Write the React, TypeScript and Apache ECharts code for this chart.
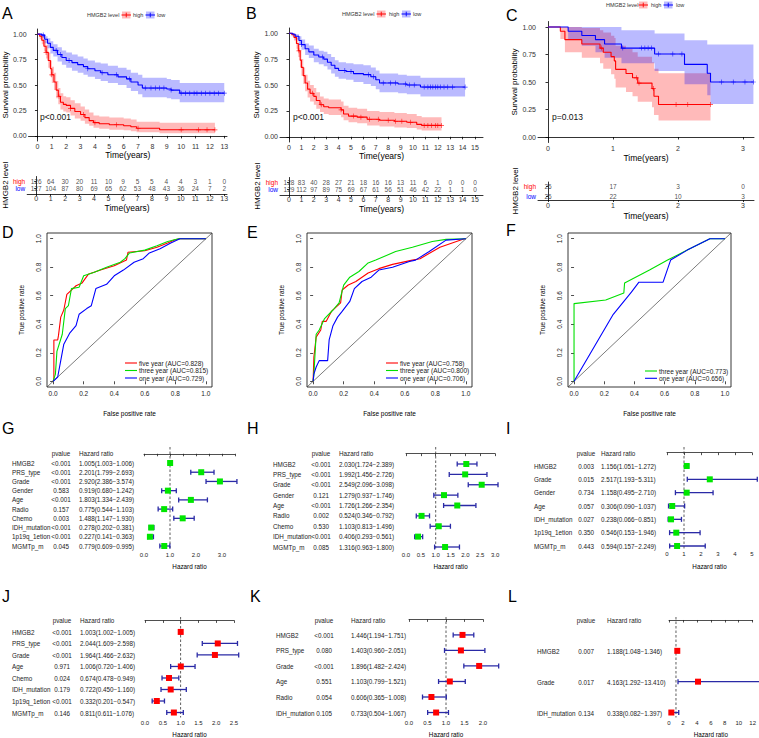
import { useEffect, useRef } from 'react';
import * as echarts from 'echarts';

const FONT = '"Liberation Sans", Arial, sans-serif';
const RED = '#ff0000';
const BLUE = '#0000ff';
const ROC_GREEN = '#00e000';
const PT_GREEN = '#00e600';
const RED_FILL = 'rgba(255,0,0,0.27)';
const BLUE_FILL = 'rgba(0,0,255,0.27)';
const BAR = '#2a2aa6';

// ---------- Kaplan-Meier data: [time, survival, lower, upper] ----------
const SURV_TICKS = [0, 0.25, 0.5, 0.75, 1];

const A_TICKS = [0, 1, 2, 3, 4, 5, 6, 7, 8, 9, 10, 11, 12, 13];
const A_HIGH = [
  [0, 1, 1, 1], [0.15, 0.98, 0.95, 1], [0.3, 0.94, 0.9, 0.98], [0.45, 0.88, 0.83, 0.94],
  [0.6, 0.82, 0.76, 0.89], [0.75, 0.74, 0.67, 0.82], [0.9, 0.66, 0.58, 0.74], [1.0, 0.6, 0.52, 0.68],
  [1.15, 0.53, 0.45, 0.62], [1.3, 0.45, 0.37, 0.54], [1.45, 0.39, 0.31, 0.47], [1.6, 0.33, 0.26, 0.42],
  [1.8, 0.31, 0.24, 0.39], [2.0, 0.3, 0.23, 0.38], [2.3, 0.27, 0.2, 0.35], [2.6, 0.24, 0.17, 0.32],
  [3.0, 0.21, 0.15, 0.29], [3.3, 0.18, 0.12, 0.26], [3.6, 0.15, 0.1, 0.23], [3.9, 0.13, 0.08, 0.2],
  [4.3, 0.12, 0.07, 0.19], [5.0, 0.11, 0.06, 0.18], [6.0, 0.1, 0.055, 0.17], [6.5, 0.09, 0.045, 0.16],
  [6.9, 0.075, 0.035, 0.14], [8.5, 0.06, 0.025, 0.13],
];
const A_HIGH_END = 12.35;
const A_LOW = [
  [0, 1, 1, 1], [0.3, 0.99, 0.97, 1], [0.5, 0.95, 0.91, 0.98], [0.7, 0.91, 0.86, 0.96],
  [0.9, 0.87, 0.81, 0.93], [1.1, 0.84, 0.78, 0.9], [1.4, 0.8, 0.73, 0.87], [1.7, 0.77, 0.7, 0.84],
  [2.0, 0.74, 0.67, 0.82], [2.4, 0.72, 0.64, 0.8], [2.8, 0.7, 0.62, 0.78], [3.2, 0.68, 0.6, 0.76],
  [3.5, 0.66, 0.58, 0.74], [4.0, 0.64, 0.56, 0.72], [4.4, 0.62, 0.54, 0.71], [4.9, 0.6, 0.52, 0.69],
  [5.6, 0.58, 0.5, 0.67], [6.2, 0.56, 0.47, 0.65], [6.5, 0.53, 0.44, 0.62], [7.0, 0.5, 0.41, 0.6],
  [7.3, 0.47, 0.38, 0.57], [9.0, 0.46, 0.37, 0.56], [9.3, 0.45, 0.36, 0.55], [9.9, 0.42, 0.33, 0.52],
];
const A_LOW_END = 13.0;
const A_HIGH_CENS = [0.6, 1.0, 1.5, 2.3, 3.2, 4.0, 5.5, 7.0, 10.0, 11.2, 11.8, 12.35];
const A_LOW_CENS = [0.4, 1.3, 1.6, 2.2, 3.5, 4.5, 5.5, 6.4, 7.5, 7.9, 8.2, 8.5, 8.8, 9.3, 10.0, 10.3, 10.6, 10.9, 11.1, 11.4, 11.7, 12.0, 12.3, 12.6, 13.0];
const A_RISK_HIGH = [126, 64, 30, 20, 11, 10, 9, 5, 5, 4, 4, 3, 1, 0];
const A_RISK_LOW = [127, 104, 87, 80, 69, 65, 62, 53, 48, 43, 36, 24, 7, 2];

const B_TICKS = [0, 1, 2, 3, 4, 5, 6, 7, 8, 9, 10, 11, 12, 13, 14, 15];
const B_HIGH = [
  [0, 1, 1, 1], [0.2, 0.99, 0.97, 1], [0.4, 0.96, 0.93, 0.99], [0.6, 0.9, 0.85, 0.95],
  [0.75, 0.83, 0.77, 0.9], [0.9, 0.74, 0.67, 0.82], [1.0, 0.67, 0.59, 0.75], [1.15, 0.59, 0.51, 0.67],
  [1.3, 0.52, 0.44, 0.6], [1.5, 0.46, 0.38, 0.54], [1.7, 0.42, 0.34, 0.5], [2.0, 0.39, 0.31, 0.47],
  [2.2, 0.35, 0.27, 0.43], [2.5, 0.31, 0.24, 0.39], [2.8, 0.29, 0.22, 0.37], [3.2, 0.28, 0.21, 0.36],
  [4.2, 0.26, 0.19, 0.34], [4.4, 0.22, 0.16, 0.3], [4.8, 0.2, 0.14, 0.28], [5.5, 0.19, 0.13, 0.27],
  [6.3, 0.17, 0.11, 0.25], [7.3, 0.16, 0.1, 0.24], [8.5, 0.15, 0.09, 0.23], [9.5, 0.14, 0.085, 0.22],
  [10.3, 0.12, 0.07, 0.2], [10.7, 0.11, 0.06, 0.19],
];
const B_HIGH_END = 12.3;
const B_LOW = [
  [0, 1, 1, 1], [0.3, 0.99, 0.97, 1], [0.5, 0.97, 0.94, 0.99], [0.8, 0.93, 0.89, 0.97],
  [1.0, 0.89, 0.84, 0.94], [1.3, 0.85, 0.79, 0.9], [1.6, 0.82, 0.76, 0.88], [2.0, 0.79, 0.72, 0.85],
  [2.4, 0.77, 0.7, 0.83], [2.8, 0.75, 0.68, 0.82], [3.1, 0.72, 0.65, 0.8], [3.4, 0.69, 0.61, 0.77],
  [3.7, 0.66, 0.58, 0.74], [4.0, 0.64, 0.56, 0.72], [4.6, 0.63, 0.55, 0.71], [5.2, 0.61, 0.53, 0.7],
  [6.0, 0.6, 0.51, 0.69], [6.6, 0.58, 0.49, 0.67], [7.0, 0.55, 0.46, 0.64], [7.3, 0.52, 0.43, 0.61],
  [8.8, 0.51, 0.42, 0.6], [9.5, 0.5, 0.41, 0.59], [10.6, 0.48, 0.39, 0.57],
];
const B_LOW_END = 14.2;
const B_HIGH_CENS = [0.8, 1.9, 2.6, 4.2, 5.2, 5.8, 6.5, 7.2, 8.0, 8.6, 9.1, 9.8, 10.9, 11.2, 11.5, 11.8, 12.0, 12.3];
const B_LOW_CENS = [1.0, 2.7, 4.5, 5.0, 6.4, 6.8, 7.6, 8.2, 8.6, 9.4, 9.7, 10.1, 10.9, 11.2, 11.4, 11.6, 11.8, 12.0, 12.2, 12.5, 12.8, 13.2, 14.2];
const B_RISK_HIGH = [128, 83, 40, 28, 27, 21, 18, 16, 16, 13, 11, 6, 1, 0, 0, 0];
const B_RISK_LOW = [129, 112, 97, 89, 75, 69, 67, 61, 56, 51, 46, 42, 22, 1, 1, 0];

const C_TICKS = [0, 1, 2, 3];
const C_HIGH = [
  [0, 1, 1, 1], [0.19, 0.962, 0.89, 1], [0.26, 0.885, 0.77, 1], [0.52, 0.846, 0.72, 0.99],
  [0.8, 0.808, 0.67, 0.97], [0.85, 0.77, 0.62, 0.95], [0.97, 0.731, 0.57, 0.92], [1.02, 0.692, 0.53, 0.9],
  [1.04, 0.615, 0.45, 0.83], [1.2, 0.577, 0.41, 0.8], [1.3, 0.538, 0.37, 0.77], [1.38, 0.49, 0.32, 0.73],
  [1.6, 0.44, 0.27, 0.68], [1.63, 0.37, 0.2, 0.62], [1.7, 0.295, 0.15, 0.58],
];
const C_HIGH_END = 2.5;
const C_LOW = [
  [0, 1, 1, 1], [0.31, 0.962, 0.89, 1], [0.52, 0.923, 0.83, 1], [0.73, 0.885, 0.77, 1],
  [0.87, 0.846, 0.72, 1], [1.13, 0.808, 0.67, 0.97], [1.64, 0.755, 0.6, 0.94], [2.1, 0.66, 0.48, 0.88],
  [2.45, 0.58, 0.38, 0.84], [2.5, 0.5, 0.3, 0.84],
];
const C_LOW_END = 3.16;
const C_HIGH_CENS = [0.82, 1.36, 1.4, 1.62, 1.97, 2.15, 2.5];
const C_LOW_CENS = [1.15, 1.44, 1.49, 1.54, 1.59, 1.7, 1.92, 2.06, 2.67, 2.85, 3.03, 3.16];
const C_RISK_HIGH = [26, 17, 3, 0];
const C_RISK_LOW = [26, 22, 10, 3];

// ---------- ROC data: [false positive rate, true positive rate] ----------
const ROC_TICKS = [0, 0.2, 0.4, 0.6, 0.8, 1];
const D_FIVE = [[0, 0], [0.005, 0.02], [0.005, 0.29], [0.03, 0.29], [0.035, 0.32], [0.05, 0.45], [0.07, 0.5], [0.09, 0.61], [0.12, 0.64], [0.15, 0.67], [0.19, 0.69], [0.23, 0.75], [0.31, 0.78], [0.4, 0.81], [0.48, 0.85], [0.49, 0.905], [0.6, 0.915], [0.68, 0.94], [0.75, 0.97], [0.79, 0.99], [0.83, 1], [1, 1]];
const D_THREE = [[0, 0], [0.015, 0.05], [0.025, 0.21], [0.06, 0.33], [0.08, 0.51], [0.1, 0.53], [0.12, 0.65], [0.17, 0.66], [0.2, 0.74], [0.27, 0.765], [0.35, 0.8], [0.44, 0.835], [0.47, 0.86], [0.5, 0.9], [0.6, 0.92], [0.68, 0.95], [0.75, 0.98], [0.82, 1], [1, 1]];
const D_ONE = [[0, 0], [0.03, 0.03], [0.05, 0.145], [0.07, 0.26], [0.11, 0.34], [0.15, 0.39], [0.17, 0.47], [0.22, 0.51], [0.25, 0.53], [0.28, 0.65], [0.35, 0.68], [0.4, 0.74], [0.46, 0.78], [0.53, 0.835], [0.59, 0.86], [0.63, 0.9], [0.7, 0.93], [0.77, 0.97], [0.83, 1], [1, 1]];
const D_LEGEND = ['five year (AUC=0.828)', 'three year (AUC=0.815)', 'one year (AUC=0.729)'];

const E_FIVE = [[0, 0], [0.005, 0.17], [0.02, 0.31], [0.05, 0.36], [0.06, 0.42], [0.085, 0.42], [0.12, 0.49], [0.15, 0.52], [0.18, 0.55], [0.19, 0.64], [0.23, 0.675], [0.28, 0.7], [0.36, 0.76], [0.43, 0.79], [0.52, 0.82], [0.65, 0.85], [0.7, 0.86], [0.83, 0.94], [0.99, 1], [1, 1]];
const E_THREE = [[0, 0], [0.005, 0.05], [0.02, 0.33], [0.04, 0.36], [0.075, 0.44], [0.13, 0.5], [0.17, 0.55], [0.2, 0.675], [0.24, 0.73], [0.3, 0.77], [0.36, 0.83], [0.41, 0.85], [0.54, 0.91], [0.65, 0.94], [0.78, 0.98], [0.87, 0.995], [1, 1]];
const E_ONE = [[0, 0], [0.005, 0.05], [0.02, 0.1], [0.04, 0.145], [0.095, 0.145], [0.105, 0.29], [0.13, 0.39], [0.16, 0.45], [0.19, 0.49], [0.24, 0.56], [0.27, 0.65], [0.32, 0.7], [0.38, 0.73], [0.43, 0.78], [0.52, 0.8], [0.63, 0.84], [0.67, 0.85], [0.76, 0.91], [0.87, 0.99], [1, 1]];
const E_LEGEND = ['five year (AUC=0.758)', 'three year (AUC=0.800)', 'one year (AUC=0.706)'];

const F_THREE = [[0, 0], [0, 0.545], [0.21, 0.57], [0.33, 0.62], [0.335, 0.69], [0.5, 0.78], [0.62, 0.85], [0.75, 0.92], [0.9, 1], [1, 1]];
const F_ONE = [[0, 0], [0.26, 0.47], [0.38, 0.625], [0.43, 0.695], [0.59, 0.695], [0.64, 0.85], [0.75, 0.92], [0.9, 1], [1, 1]];
const F_LEGEND = ['three year (AUC=0.773)', 'one year (AUC=0.656)'];

// ---------- Forest plot data ----------
const G_NAMES = ['HMGB2', 'PRS_type', 'Grade', 'Gender', 'Age', 'Radio', 'Chemo', 'IDH_mutation', '1p19q_1etion', 'MGMTp_m'];
const G_P = ['<0.001', '<0.001', '<0.001', '0.583', '<0.001', '0.157', '0.003', '<0.001', '<0.001', '0.045'];
const G_HR = [1.005, 2.201, 2.92, 0.919, 1.803, 0.775, 1.488, 0.278, 0.227, 0.779];
const G_LO = [1.003, 1.799, 2.386, 0.68, 1.334, 0.544, 1.147, 0.202, 0.141, 0.609];
const G_HI = [1.006, 2.693, 3.574, 1.242, 2.439, 1.103, 1.93, 0.381, 0.363, 0.995];
const G_TICKS = [0, 0.5, 1, 1.5, 2, 2.5, 3, 3.5];
const G_LABELS = [0, 1, 2, 3];

const H_NAMES = ['HMGB2', 'PRS_type', 'Grade', 'Gender', 'Age', 'Radio', 'Chemo', 'IDH_mutation', 'MGMTp_m'];
const H_P = ['<0.001', '<0.001', '<0.001', '0.121', '<0.001', '0.002', '0.530', '<0.001', '0.085'];
const H_HR = [2.03, 1.992, 2.549, 1.279, 1.726, 0.524, 1.103, 0.406, 1.316];
const H_LO = [1.724, 1.456, 2.096, 0.937, 1.266, 0.346, 0.813, 0.293, 0.963];
const H_HI = [2.389, 2.726, 3.098, 1.746, 2.354, 0.792, 1.496, 0.561, 1.8];
const H_TICKS = [0, 0.5, 1, 1.5, 2, 2.5, 3];

const I_NAMES = ['HMGB2', 'Grade', 'Gender', 'Age', 'IDH_mutation', '1p19q_1etion', 'MGMTp_m'];
const I_P = ['0.003', '0.015', '0.734', '0.057', '0.027', '0.350', '0.443'];
const I_HR = [1.156, 2.517, 1.158, 0.306, 0.238, 0.546, 0.594];
const I_LO = [1.051, 1.193, 0.495, 0.09, 0.066, 0.153, 0.157];
const I_HI = [1.272, 5.311, 2.71, 1.037, 0.851, 1.946, 2.249];
const I_TICKS = [0, 1, 2, 3, 4, 5];

const J_NAMES = ['HMGB2', 'PRS_type', 'Grade', 'Age', 'Chemo', 'IDH_mutation', '1p19q_1etion', 'MGMTp_m'];
const J_P = ['<0.001', '<0.001', '<0.001', '0.971', '0.024', '0.179', '<0.001', '0.146'];
const J_HR = [1.003, 2.044, 1.964, 1.006, 0.674, 0.722, 0.332, 0.811];
const J_LO = [1.002, 1.609, 1.466, 0.72, 0.478, 0.45, 0.201, 0.611];
const J_HI = [1.005, 2.598, 2.632, 1.406, 0.949, 1.16, 0.547, 1.076];
const J_TICKS = [0, 0.5, 1, 1.5, 2, 2.5];

const K_NAMES = ['HMGB2', 'PRS_type', 'Grade', 'Age', 'Radio', 'IDH_mutation'];
const K_P = ['<0.001', '0.080', '<0.001', '0.551', '0.054', '0.105'];
const K_HR = [1.446, 1.403, 1.896, 1.103, 0.606, 0.733];
const K_LO = [1.194, 0.96, 1.482, 0.799, 0.365, 0.504];
const K_HI = [1.751, 2.051, 2.424, 1.521, 1.008, 1.067];
const K_TICKS = [0, 0.5, 1, 1.5, 2];

const L_NAMES = ['HMGB2', 'Grade', 'IDH_mutation'];
const L_P = ['0.007', '0.017', '0.134'];
const L_HR = [1.188, 4.163, 0.338];
const L_LO = [1.048, 1.292, 0.082];
const L_HI = [1.346, 13.41, 1.397];
const L_TICKS = [0, 2, 4, 6, 8, 10, 12];

const PLUS = 'path://M-1,-0.13L1,-0.13L1,0.13L-1,0.13Z M-0.13,-1L0.13,-1L0.13,1L-0.13,1Z';

function survAt(steps: number[][], t: number) {
  let s = steps[0][1];
  for (const st of steps) if (st[0] <= t + 1e-9) s = st[1];
  return s;
}

function buildOption() {
  const grid: any[] = [];
  const xAxis: any[] = [];
  const yAxis: any[] = [];
  const series: any[] = [];
  const graphic: any[] = [];

  const addGrid = (g: any, x: any, y: any) => {
    const i = grid.length;
    grid.push(g);
    xAxis.push({ ...x, gridIndex: i });
    yAxis.push({ ...y, gridIndex: i });
    return i;
  };
  const text = (x: number, y: number, s: string, size: number, o: any = {}) =>
    graphic.push({
      type: 'text', x, y, silent: true, z: 10,
      style: {
        text: s, fontSize: size, fontFamily: FONT, fill: o.fill ?? '#1a1a1a',
        align: o.align ?? 'left', verticalAlign: 'middle',
        textAlign: o.align ?? 'left', textVerticalAlign: 'middle',
      },
    });
  const seg = (x1: number, y1: number, x2: number, y2: number, stroke: string, lw = 1) =>
    graphic.push({ type: 'line', silent: true, z: 10, shape: { x1, y1, x2, y2 }, style: { stroke, lineWidth: lw } });
  const box = (x: number, y: number, w: number, h: number, fill: string) =>
    graphic.push({ type: 'rect', silent: true, z: 10, shape: { x, y, width: w, height: h }, style: { fill } });

  const blackLine = { show: true, lineStyle: { color: '#000', width: 0.8 } };
  const tick = (vals: number[], len = 2.5) => ({ show: true, length: len, customValues: vals, lineStyle: { color: '#000', width: 0.8 } });
  const nameStyle = (size: number) => ({ fontSize: size, color: '#000', fontFamily: FONT });

  // panel letters
  const letters: [string, number, number][] = [
    ['A', 2, 13], ['B', 246, 13], ['C', 506, 15], ['D', 2, 232], ['E', 247, 232], ['F', 506, 230],
    ['G', 2, 428], ['H', 247, 428], ['I', 506, 428], ['J', 2, 596], ['K', 250, 596], ['L', 508, 596],
  ];
  letters.forEach(([l, x, y]) => text(x, y, l, 16, { fill: '#000' }));

  // ---------------- KM panels ----------------
  const km = (p: any) => {
    const gi = addGrid(
      { left: p.left, top: p.top, width: p.width, height: p.height },
      {
        type: 'value', min: p.xMin, max: p.xMax, axisLine: blackLine, axisTick: tick(p.ticks),
        axisLabel: { customValues: p.ticks, fontSize: 7, color: '#333', margin: 2, fontFamily: FONT },
        splitLine: { show: false }, name: 'Time(years)', nameLocation: 'middle', nameGap: p.xNameGap,
        nameTextStyle: nameStyle(8.5),
      },
      {
        type: 'value', min: -0.05, max: 1.05, axisLine: blackLine, axisTick: tick(SURV_TICKS),
        axisLabel: { customValues: SURV_TICKS, formatter: (v: number) => v.toFixed(2), fontSize: 7, color: '#333', margin: 2, fontFamily: FONT },
        splitLine: { show: false }, name: 'Survival probability', nameLocation: 'middle', nameRotate: 90,
        nameGap: p.yNameGap, nameTextStyle: nameStyle(8),
      }
    );
    const curves = [
      { steps: p.high, end: p.highEnd, cens: p.highCens, color: RED, fill: RED_FILL },
      { steps: p.low, end: p.lowEnd, cens: p.lowCens, color: BLUE, fill: BLUE_FILL },
    ];
    curves.forEach((c) => {
      series.push({
        type: 'custom', xAxisIndex: gi, yAxisIndex: gi, clip: true, silent: true, z: 1,
        data: c.steps.map((s: number[]) => [s[0], s[2], s[3]]),
        encode: { x: 0, y: [1, 2] },
        renderItem: (params: any, api: any) => {
          if (params.dataIndex !== 0) return null;
          const up: number[][] = [];
          const lo: number[][] = [];
          for (let i = 0; i < c.steps.length; i++) {
            const t0 = c.steps[i][0];
            const t1 = i + 1 < c.steps.length ? c.steps[i + 1][0] : c.end;
            up.push(api.coord([t0, c.steps[i][3]]), api.coord([t1, c.steps[i][3]]));
            lo.push(api.coord([t0, c.steps[i][2]]), api.coord([t1, c.steps[i][2]]));
          }
          return { type: 'polygon', shape: { points: up.concat(lo.reverse()) }, style: { fill: c.fill } };
        },
      });
    });
    curves.forEach((c) => {
      const last = c.steps[c.steps.length - 1];
      series.push({
        type: 'line', xAxisIndex: gi, yAxisIndex: gi, step: 'end', symbol: 'none', silent: true, z: 3,
        data: c.steps.map((s: number[]) => [s[0], s[1]]).concat([[c.end, last[1]]]),
        lineStyle: { color: c.color, width: 1.1 },
      });
      series.push({
        type: 'scatter', xAxisIndex: gi, yAxisIndex: gi, symbol: PLUS, symbolSize: 5, silent: true, z: 4,
        data: c.cens.map((t: number) => [t, survAt(c.steps, t)]),
        itemStyle: { color: c.color },
      });
    });
    text(p.pX, p.pY, p.pText, 8.5, { fill: '#111' });

    // risk table
    const ti = addGrid(
      { left: p.left, top: p.tTop, width: p.width, height: p.tHeight },
      {
        type: 'value', min: p.xMin, max: p.xMax, axisLine: blackLine, axisTick: tick(p.ticks, 2),
        axisLabel: { customValues: p.ticks, fontSize: 7, color: '#333', margin: p.tLabelMargin, fontFamily: FONT },
        splitLine: { show: false }, name: 'Time(years)', nameLocation: 'middle', nameGap: p.tNameGap,
        nameTextStyle: nameStyle(8.5),
      },
      {
        type: 'value', min: p.tMin, max: p.tMax, axisLine: blackLine, axisTick: tick([1, 2], 2),
        axisLabel: {
          customValues: [1, 2], margin: 2,
          formatter: (v: number) => (v === 2 ? '{h|high}' : '{l|low}'),
          rich: { h: { color: RED, fontSize: 6.5, fontFamily: FONT }, l: { color: BLUE, fontSize: 6.5, fontFamily: FONT } },
        },
        splitLine: { show: false }, name: 'HMGB2 level', nameLocation: 'middle', nameRotate: 90,
        nameGap: p.tYNameGap, nameTextStyle: nameStyle(8),
      }
    );
    series.push({
      type: 'scatter', xAxisIndex: ti, yAxisIndex: ti, symbolSize: 1, silent: true,
      itemStyle: { color: 'rgba(0,0,0,0)' },
      label: { show: true, position: 'inside', formatter: (q: any) => String(q.value[2]), fontSize: 6.5, color: '#222', fontFamily: FONT },
      data: p.ticks.map((t: number, i: number) => [t, 2, p.riskHigh[i]]).concat(p.ticks.map((t: number, i: number) => [t, 1, p.riskLow[i]])),
    });

    // legend
    const [lx, k1, hx, k2, lox] = p.legendX;
    const ly = p.legendY;
    text(lx, ly, 'HMGB2 level', 5.5, { fill: '#333' });
    [[k1, RED_FILL, RED], [k2, BLUE_FILL, BLUE]].forEach(([kx, f, col]: any) => {
      box(kx, ly - 3.5, 8.5, 7, f);
      seg(kx - 0.5, ly, kx + 9, ly, col, 1);
      seg(kx + 4.25, ly - 2.3, kx + 4.25, ly + 2.3, col, 0.9);
    });
    text(hx, ly, 'high', 5.5, { fill: '#333' });
    text(lox, ly, 'low', 5.5, { fill: '#333' });
  };

  km({
    left: 27, width: 200, xMin: -0.6215, xMax: 13.19, top: 29, height: 112, ticks: A_TICKS,
    xNameGap: 9, yNameGap: 16.5,
    high: A_HIGH, highEnd: A_HIGH_END, highCens: A_HIGH_CENS, low: A_LOW, lowEnd: A_LOW_END, lowCens: A_LOW_CENS,
    pText: 'p<0.001', pX: 40, pY: 117,
    tTop: 176.5, tHeight: 17.5, tMin: 0.3, tMax: 2.6, tLabelMargin: 0.5, tNameGap: 9, tYNameGap: 16.5,
    riskHigh: A_RISK_HIGH, riskLow: A_RISK_LOW,
    legendX: [87, 122, 133, 146, 157], legendY: 15,
  });
  km({
    left: 280, width: 203, xMin: -0.726, xMax: 15.645, top: 28, height: 114, ticks: B_TICKS,
    xNameGap: 9, yNameGap: 16.5,
    high: B_HIGH, highEnd: B_HIGH_END, highCens: B_HIGH_CENS, low: B_LOW, lowEnd: B_LOW_END, lowCens: B_LOW_CENS,
    pText: 'p<0.001', pX: 293, pY: 117,
    tTop: 177.5, tHeight: 17.5, tMin: 0.3, tMax: 2.6, tLabelMargin: 0.5, tNameGap: 9, tYNameGap: 16.5,
    riskHigh: B_RISK_HIGH, riskLow: B_RISK_LOW,
    legendX: [342, 377, 389, 402, 413], legendY: 14,
  });
  km({
    left: 538, width: 216, xMin: -0.154, xMax: 3.169, top: 21.5, height: 121, ticks: C_TICKS,
    xNameGap: 11, yNameGap: 18,
    high: C_HIGH, highEnd: C_HIGH_END, highCens: C_HIGH_CENS, low: C_LOW, lowEnd: C_LOW_END, lowCens: C_LOW_CENS,
    pText: 'p=0.013', pX: 552, pY: 117,
    tTop: 182, tHeight: 18, tMin: 0.6, tMax: 2.4, tLabelMargin: 1.5, tNameGap: 11, tYNameGap: 16,
    riskHigh: C_RISK_HIGH, riskLow: C_RISK_LOW,
    legendX: [606, 639, 651, 664, 676], legendY: 5,
  });

  // ---------------- ROC panels ----------------
  const roc = (p: any) => {
    const rocTick = { show: true, length: 3, customValues: ROC_TICKS, lineStyle: { color: '#222', width: 0.8 } };
    const gi = addGrid(
      { left: p.left, top: 233, width: p.width, height: 154, show: true, borderColor: '#222', borderWidth: 0.9, backgroundColor: 'transparent' },
      {
        type: 'value', min: -0.04, max: 1.04, axisLine: { show: false }, axisTick: rocTick,
        axisLabel: { customValues: ROC_TICKS, formatter: (v: number) => v.toFixed(1), fontSize: 6.5, color: '#222', margin: 3, fontFamily: FONT },
        splitLine: { show: false }, name: 'False positive rate', nameLocation: 'middle', nameGap: 22.5, nameTextStyle: nameStyle(6.5),
      },
      {
        type: 'value', min: -0.04, max: 1.04, axisLine: { show: false }, axisTick: rocTick,
        axisLabel: { customValues: ROC_TICKS, formatter: (v: number) => v.toFixed(1), rotate: 90, fontSize: 6.5, color: '#222', margin: 5.5, fontFamily: FONT },
        splitLine: { show: false }, name: 'True positive rate', nameLocation: 'middle', nameRotate: 90, nameGap: 22.5, nameTextStyle: nameStyle(6.5),
      }
    );
    series.push({
      type: 'line', xAxisIndex: gi, yAxisIndex: gi, silent: true, symbol: 'none',
      data: [[-0.04, -0.04], [1.04, 1.04]], lineStyle: { color: '#444', width: 0.7 },
    });
    p.curves.forEach((c: any) =>
      series.push({
        type: 'line', xAxisIndex: gi, yAxisIndex: gi, silent: true, symbol: 'none',
        data: c.data, lineStyle: { color: c.color, width: 1.1 },
      })
    );
    p.curves.forEach((c: any, i: number) => {
      const y = p.legY[i];
      seg(p.legX, y, p.legX + 12, y, c.color, 1.1);
      text(p.legX + 14, y, c.label, 6.5, { fill: '#222' });
    });
  };
  roc({
    left: 47, width: 165, legX: 125, legY: [363, 370.5, 378],
    curves: [
      { data: D_FIVE, color: RED, label: D_LEGEND[0] },
      { data: D_THREE, color: ROC_GREEN, label: D_LEGEND[1] },
      { data: D_ONE, color: BLUE, label: D_LEGEND[2] },
    ],
  });
  roc({
    left: 307, width: 165, legX: 386, legY: [363, 370.5, 378],
    curves: [
      { data: E_FIVE, color: RED, label: E_LEGEND[0] },
      { data: E_THREE, color: ROC_GREEN, label: E_LEGEND[1] },
      { data: E_ONE, color: BLUE, label: E_LEGEND[2] },
    ],
  });
  roc({
    left: 568, width: 163, legX: 645, legY: [371, 378.3],
    curves: [
      { data: F_THREE, color: ROC_GREEN, label: F_LEGEND[0] },
      { data: F_ONE, color: BLUE, label: F_LEGEND[1] },
    ],
  });

  // ---------------- Forest panels ----------------
  const forest = (L: any, d: any) => {
    const n = d.names.length;
    const step = (L.lastY - L.firstY) / (n - 1);
    const yMin = 1 - (L.firstY - L.gridTop) / step;
    const yMax = n + (L.axisY - L.lastY) / step;
    const maxTick = L.ticks[L.ticks.length - 1];
    const gi = addGrid(
      { left: L.gridLeft, top: L.gridTop, width: L.ppu * maxTick, height: L.axisY - L.gridTop },
      {
        type: 'value', min: 0, max: maxTick, axisLine: { show: true, lineStyle: { color: '#222', width: 0.8 } },
        axisTick: { show: true, length: 2.5, customValues: L.ticks, lineStyle: { color: '#222', width: 0.8 } },
        axisLabel: { customValues: L.labels, formatter: (v: number) => v.toFixed(L.dec), fontSize: 6, color: '#222', margin: 2, fontFamily: FONT },
        splitLine: { show: false }, name: 'Hazard ratio', nameLocation: 'middle', nameGap: L.nameGap, nameTextStyle: nameStyle(6.3),
      },
      { type: 'value', inverse: true, min: yMin, max: yMax, show: false }
    );
    series.push({
      type: 'line', xAxisIndex: gi, yAxisIndex: gi, silent: true, symbol: 'none',
      data: [[1, yMin], [1, yMax]], lineStyle: { color: '#333', width: 0.8, type: [2.5, 2] },
    });
    series.push({
      type: 'custom', xAxisIndex: gi, yAxisIndex: gi, clip: false, silent: true, z: 5,
      data: d.hr.map((h: number, i: number) => [h, d.lo[i], d.hi[i], i + 1]),
      encode: { x: [0, 1, 2], y: 3 },
      renderItem: (_params: any, api: any) => {
        const r = api.value(3);
        const c = api.coord([api.value(0), r]);
        const l = api.coord([api.value(1), r]);
        const h = api.coord([api.value(2), r]);
        const y = c[1];
        const st = { stroke: BAR, lineWidth: 1.3 };
        return {
          type: 'group',
          children: [
            { type: 'line', shape: { x1: l[0], y1: y, x2: h[0], y2: y }, style: st },
            { type: 'line', shape: { x1: l[0], y1: y - 2.5, x2: l[0], y2: y + 2.5 }, style: st },
            { type: 'line', shape: { x1: h[0], y1: y - 2.5, x2: h[0], y2: y + 2.5 }, style: st },
            { type: 'rect', shape: { x: c[0] - 3, y: y - 3, width: 6, height: 6 }, style: { fill: L.pt } },
          ],
        };
      },
    });
    text(L.pX, L.headerY, 'pvalue', 6.3, { align: 'center', fill: '#222' });
    text(L.hrX, L.headerY, 'Hazard ratio', 6.3, { fill: '#222' });
    d.names.forEach((nm: string, i: number) => {
      const y = L.firstY + i * step;
      text(L.nameX, y, nm, 6.3, { fill: '#222' });
      text(L.pX, y, d.p[i], 6.3, { align: 'center', fill: '#222' });
      text(L.hrX, y, `${d.hr[i].toFixed(3)}(${d.lo[i].toFixed(3)}\u2212${d.hi[i].toFixed(3)})`, 6.3, { fill: '#222' });
    });
  };

  forest(
    { nameX: 12, pX: 61, hrX: 79, headerY: 453, firstY: 463, lastY: 546, gridTop: 447, axisY: 550, gridLeft: 144, ppu: 26, ticks: G_TICKS, labels: G_LABELS, dec: 1, nameGap: 13.5, pt: PT_GREEN },
    { names: G_NAMES, p: G_P, hr: G_HR, lo: G_LO, hi: G_HI }
  );
  forest(
    { nameX: 273, pX: 321, hrX: 339, headerY: 453, firstY: 464, lastY: 547, gridTop: 447, axisY: 550, gridLeft: 406, ppu: 29.7, ticks: H_TICKS, labels: H_TICKS, dec: 1, nameGap: 13.5, pt: PT_GREEN },
    { names: H_NAMES, p: H_P, hr: H_HR, lo: H_LO, hi: H_HI }
  );
  forest(
    { nameX: 534, pX: 586, hrX: 601, headerY: 453, firstY: 466, lastY: 546, gridTop: 447, axisY: 549, gridLeft: 667, ppu: 17, ticks: I_TICKS, labels: I_TICKS, dec: 0, nameGap: 14, pt: PT_GREEN },
    { names: I_NAMES, p: I_P, hr: I_HR, lo: I_LO, hi: I_HI }
  );
  forest(
    { nameX: 12, pX: 62, hrX: 80, headerY: 620, firstY: 632, lastY: 713, gridTop: 617, axisY: 718, gridLeft: 145, ppu: 35.6, ticks: J_TICKS, labels: J_TICKS, dec: 1, nameGap: 13.5, pt: RED },
    { names: J_NAMES, p: J_P, hr: J_HR, lo: J_LO, hi: J_HI }
  );
  forest(
    { nameX: 276, pX: 324, hrX: 351, headerY: 620, firstY: 635, lastY: 713, gridTop: 617, axisY: 718, gridLeft: 409, ppu: 37, ticks: K_TICKS, labels: K_TICKS, dec: 1, nameGap: 13.5, pt: RED },
    { names: K_NAMES, p: K_P, hr: K_HR, lo: K_LO, hi: K_HI }
  );
  forest(
    { nameX: 537, pX: 586, hrX: 607, headerY: 620, firstY: 651, lastY: 713, gridTop: 617, axisY: 718, gridLeft: 669, ppu: 7.08, ticks: L_TICKS, labels: L_TICKS, dec: 0, nameGap: 13.5, pt: RED },
    { names: L_NAMES, p: L_P, hr: L_HR, lo: L_LO, hi: L_HI }
  );

  return {
    animation: false,
    backgroundColor: '#ffffff',
    textStyle: { fontFamily: FONT },
    grid, xAxis, yAxis, series, graphic,
  };
}

export default function App() {
  const ref = useRef<HTMLDivElement>(null);
  useEffect(() => {
    const chart = echarts.init(ref.current!, null, { renderer: 'svg' });
    chart.setOption(buildOption() as any);
    return () => chart.dispose();
  }, []);
  return (
    <div
      ref={ref}
      style={{ position: 'absolute', left: 0, top: 0, width: 759, height: 738, background: '#fff' }}
    />
  );
}
